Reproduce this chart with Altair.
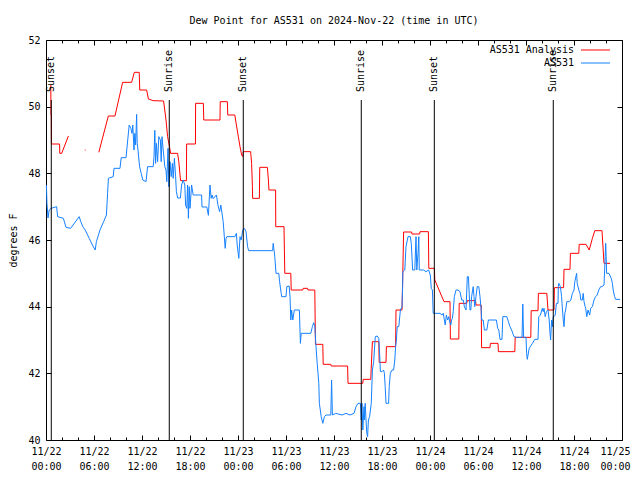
import altair as alt
import pandas as pd

TITLE = "Dew Point for AS531 on 2024-Nov-22 (time in UTC)"
FONT = "DejaVu Sans Mono"

series_names = ["AS531 Analysis", "AS531"]
series_colors = ["#ff0000", "#1581ff"]

# Red (analysis) series: hours since 2024-11-22 00:00 UTC, degrees F, segment id (gaps)
red_hours = [0.6, 0.62, 0.66, 0.68, 1.7, 1.72, 1.96, 2.8,
             4.85, 4.95,
             6.6, 7.79, 8.62, 9.58, 10.7, 11.04, 11.65, 11.72, 12.58, 12.8, 13.4, 14.7, 15.0, 15.2,
             15.4, 15.58, 16.45, 16.6, 16.75, 16.83, 17.55, 17.58, 18.68, 18.7, 19.67, 19.72, 21.75,
             21.78, 22.67, 22.72, 23.6, 23.8, 24.04, 24.25, 24.46, 24.6, 24.66, 25.58, 25.7, 25.8,
             25.83, 26.67, 26.72, 27.67, 27.8, 27.87, 28.7, 28.72, 29.75, 29.8, 29.85, 30.6, 30.65,
             32.1, 32.15, 32.7, 32.75, 33.6, 33.68, 34.6, 34.65, 35.6, 35.65, 37.7, 37.75, 39.6,
             39.65, 40.6, 40.65, 40.8, 41.6, 41.65, 42.5, 42.55, 43.7, 43.75, 44.5, 44.6, 44.7,
             45.7, 45.75, 46.7, 46.75, 47.8, 47.85, 48.55, 48.6, 49.75, 50.5, 50.55, 51.6, 51.65,
             52.6, 52.65, 53.7, 53.75, 54.4, 54.45, 55.5, 55.55, 56.5, 56.55, 58.6, 58.65, 60.6,
             60.65, 61.5, 61.55, 62.6, 62.75, 63.5, 63.55, 64.7, 64.75, 65.5, 65.55, 66.6, 66.65,
             67.5, 67.9, 68.3, 68.6, 69.5, 69.75, 70.5]
red_values = [50.65, 49.75, 49.75, 48.88, 48.88, 48.6, 48.6, 49.12,
              48.7, 48.7,
              48.63, 49.72, 49.72, 50.73, 50.73, 51.03, 51.03, 50.5, 50.5, 50.23, 50.18, 50.17, 49.6, 49.1,
              48.85, 48.6, 48.6, 48.35, 47.95, 47.78, 47.78, 48.88, 48.88, 50.1, 50.1, 49.6, 49.6,
              50.15, 50.15, 49.75, 49.75, 49.45, 49.1, 48.8, 48.55, 48.5, 48.65, 48.65, 48.3, 47.6,
              47.25, 47.25, 48.18, 48.18, 47.8, 47.5, 47.5, 46.4, 46.4, 45.7, 45.0, 45.0, 44.5,
              44.5, 44.55, 44.55, 44.5, 44.5, 42.87, 42.87, 42.27, 42.27, 42.22, 42.22, 41.7, 41.7,
              41.82, 41.82, 42.15, 42.95, 42.95, 42.33, 42.33, 42.8, 42.8, 43.9, 43.9, 45.0, 46.24,
              46.24, 46.18, 46.18, 46.25, 46.25, 45.15, 45.15, 44.8, 44.15, 44.15, 43.03, 43.03, 44.1,
              44.1, 44.18, 44.18, 44.05, 44.05, 42.77, 42.77, 42.9, 42.9, 42.65, 42.65, 43.08, 43.08,
              43.88, 43.88, 44.4, 44.4, 43.9, 43.9, 44.57, 44.57, 45.12, 45.12, 45.6, 45.6, 45.87,
              45.87, 45.7, 46.05, 46.28, 46.28, 45.3, 45.3]
red_segment = [0] * 8 + [1] * 2 + [2] * (len(red_hours) - 10)

# Blue (observed) series
blue_hours = [0.05, 0.12, 0.25, 0.4, 0.63, 1.33, 1.45, 2.17, 2.5, 3.08, 4.15, 4.35, 4.6, 4.9, 5.4, 5.8,
              6.15, 6.3, 6.75, 7.2, 7.55, 7.7, 7.8, 8.4, 8.5, 9.25, 9.4, 10.0, 10.4, 10.6, 10.75, 10.85,
              11.0, 11.1, 11.2, 11.33, 11.4, 11.5, 11.7, 11.9, 12.1, 12.5, 12.7, 13.4, 13.5, 13.6, 13.7,
              13.8, 13.95, 14.1, 14.3, 14.4, 14.5, 14.65, 14.85, 15.0, 15.1, 15.25, 15.35, 15.5, 15.65,
              15.8, 15.9, 16.05, 16.2, 16.3, 16.46, 16.8, 16.95, 17.15, 17.35, 17.45, 17.6, 17.7, 17.8,
              17.9, 18.0, 18.2, 18.4, 19.45, 19.5, 20.1, 20.3, 20.5, 20.65, 20.75, 20.9, 21.3, 21.5,
              21.7, 21.85, 22.15, 22.4, 22.5, 22.6, 23.6, 23.8, 23.9, 24.1, 24.25, 24.4, 24.6, 24.8,
              25.0, 25.2, 25.33, 28.33, 28.4, 28.6, 28.75, 29.1, 29.2, 29.4, 29.46, 30.0, 30.1, 30.4,
              30.5, 30.6, 30.7, 30.85, 31.04, 31.67, 31.8, 31.9, 33.1, 33.3, 33.46, 33.6, 33.75, 33.9,
              34.0, 34.1, 34.17, 34.4, 34.6, 34.8, 35.0, 35.6, 35.7, 35.8, 36.2, 37.0, 37.5, 38.0, 38.5,
              38.75, 39.0, 39.3, 39.4, 39.5, 39.6, 39.75, 39.8, 39.9, 40.0, 40.1, 40.2, 40.3, 40.45,
              40.66, 40.8, 40.96, 41.16, 41.4, 41.6, 41.7, 41.8, 42.0, 42.2, 42.3, 42.4, 42.5, 42.83,
              42.9, 43.04, 43.25, 43.45, 43.6, 43.7, 43.8, 43.9, 44.1, 44.3, 44.5, 44.58, 44.6, 44.85,
              45.0, 45.25, 45.54, 45.66, 45.83, 46.1, 46.25, 46.35, 46.5, 46.6, 46.66, 47.2, 47.5,
              47.83, 48.04, 48.16, 48.3, 48.4, 49.25, 49.5, 49.66, 49.8, 49.9, 50.05, 50.2, 50.35,
              50.45, 50.6, 50.7, 50.8, 50.9, 51.04, 51.25, 51.5, 51.75, 51.96, 52.15, 52.3, 52.5, 52.6,
              52.66, 52.8, 52.9, 53.0, 53.1, 53.2, 53.4, 53.5, 53.6, 53.75, 53.9, 54.1, 54.25, 54.4,
              54.46, 54.65, 54.8, 55.1, 55.3, 56.3, 56.46, 56.6, 56.75, 57.0, 57.1, 57.6, 57.8, 58.0,
              58.2, 58.5, 58.8, 59.5, 59.6, 59.7, 60.0, 60.08, 60.16, 60.4, 60.8, 61.1, 61.5, 61.6,
              61.8, 62.04, 62.15, 62.25, 62.4, 62.55, 62.75, 62.9, 63.0, 63.08, 63.2, 63.3, 63.4, 63.5,
              63.65, 63.8, 64.0, 64.04, 64.1, 64.3, 64.45, 64.5, 64.66, 64.75, 64.85, 64.96, 65.1,
              65.4, 65.6, 65.8, 66.0, 66.1, 66.33, 66.4, 66.6, 66.75, 66.85, 67.04, 67.15, 67.25,
              67.4, 67.46, 67.6, 67.75, 67.96, 68.08, 68.3, 68.5, 68.7, 68.9, 69.1, 69.33, 69.5,
              69.75, 69.9, 69.96, 70.02, 70.08, 70.375, 70.66, 70.8, 70.9, 71.08, 71.2, 71.75]
blue_values = [47.65, 47.1, 46.66, 46.9, 46.95, 47.0, 46.7, 46.65, 46.38, 46.35, 46.7, 46.55, 46.4, 46.3,
               46.05, 45.85, 45.7, 45.95, 46.3, 46.55, 46.75, 47.4, 47.85, 47.9, 48.15, 48.15, 48.47,
               48.47, 49.45, 49.35, 49.2, 49.45, 48.7, 49.2, 48.85, 49.77, 48.9, 48.7, 48.2, 48.0, 47.8,
               47.75, 48.2, 48.2, 48.5, 49.29, 48.3, 48.9, 48.35, 49.1, 49.0, 48.35, 49.1, 48.7, 48.2,
               48.1, 47.75, 48.75, 47.6, 48.35, 47.9, 48.3, 47.85, 48.45, 47.9, 47.45, 47.26, 47.26,
               47.65, 47.8, 47.65, 47.05, 46.95, 47.65, 46.65, 47.6, 46.95, 47.65, 47.35, 47.35, 46.99,
               46.99, 46.74, 47.65, 47.25, 47.35, 47.24, 47.35, 47.04, 46.85, 47.05, 46.55, 45.75,
               46.04, 46.1, 46.1, 46.2, 45.85, 45.45, 46.1, 46.0, 46.3, 46.35, 46.25, 45.8, 45.68,
               45.68, 45.9, 45.5, 45.0, 45.0, 44.75, 44.4, 44.3, 44.3, 44.6, 44.62, 44.3, 43.6, 43.9,
               43.6, 43.9, 43.9, 42.9, 43.2, 43.2, 43.4, 43.52, 43.4, 42.8, 42.3, 42.0, 41.7, 41.1,
               40.7, 40.5, 40.7, 40.75, 40.75, 41.8, 40.75, 40.8, 40.75, 40.8, 40.75, 40.8, 41.0, 41.1,
               41.1, 40.6, 41.1, 40.3, 41.0, 40.6, 41.1, 40.6, 40.2, 40.1, 40.6, 40.7, 41.1, 42.1,
               42.35, 43.1, 43.12, 43.05, 42.6, 42.05, 42.05, 42.1, 42.0, 41.6, 41.1, 41.1, 41.6, 42.0,
               42.1, 42.1, 42.4, 42.8, 43.0, 43.4, 43.4, 43.9, 44.0, 44.6, 45.05, 45.1, 45.8, 46.1,
               46.1, 45.9, 45.1, 45.1, 46.1, 45.1, 45.6, 46.1, 45.1, 45.1, 45.05, 45.1, 44.95, 44.55,
               44.5, 43.8, 43.8, 43.75, 43.8, 43.6, 43.45, 43.75, 43.6, 43.7, 43.55, 43.45, 43.6,
               43.65, 43.85, 44.3, 44.5, 44.5, 44.45, 44.2, 44.2, 44.0, 43.9, 44.5, 44.9, 44.9, 44.4,
               43.9, 43.9, 44.3, 44.6, 44.3, 44.0, 44.3, 44.6, 44.6, 44.3, 43.9, 43.6, 43.6, 43.3,
               43.3, 43.6, 43.6, 43.35, 43.3, 43.02, 43.02, 43.7, 43.7, 43.55, 43.4, 43.3, 43.1, 43.08,
               43.08, 44.08, 43.08, 43.08, 42.6, 42.42, 42.75, 42.9, 43.02, 43.02, 43.7, 43.75, 43.95,
               43.85, 43.95, 43.7, 43.85, 43.9, 43.6, 43.2, 43.0, 43.6, 43.4, 43.7, 43.7, 43.75, 44.1,
               44.1, 44.6, 44.7, 44.6, 44.3, 44.1, 43.6, 43.4, 43.8, 43.9, 44.15, 44.15, 44.2, 44.4,
               44.5, 44.75, 45.0, 44.7, 44.5, 44.4, 44.2, 44.2, 44.4, 44.15, 44.0, 43.95, 43.7, 43.9,
               43.75, 43.95, 44.0, 44.2, 44.3, 44.35, 44.5, 44.6, 44.6, 44.65, 45.5, 45.9, 45.5, 45.0,
               45.0, 44.85, 44.7, 44.5, 44.3, 44.22, 44.22]

sun_hours = [0.66, 15.41, 24.66, 39.41, 48.54, 63.41]
sun_labels = ["Sunset", "Sunrise", "Sunset", "Sunrise", "Sunset", "Sunrise"]

x_label_hours = list(range(0, 73, 6))
x_tick_hours = list(range(0, 73, 2))
y_ticks = [40, 42, 44, 46, 48, 50, 52]
start_month = "11/"
start_day = 22

W, H = 576, 400

rows = []
for i, (h, v, s) in enumerate(zip(red_hours, red_values, red_segment)):
    rows.append({"hour": h, "value": v, "series": series_names[0], "seg": "r%d" % s, "idx": i})
for i, (h, v) in enumerate(zip(blue_hours, blue_values)):
    rows.append({"hour": h, "value": v, "series": series_names[1], "seg": "b0", "idx": i})
lines_df = pd.DataFrame(rows)
sun_df = pd.DataFrame({"hour": sun_hours, "label": sun_labels})
legend_df = pd.DataFrame({"series": series_names})

x_scale = alt.Scale(domain=[0, 72], nice=False, zero=False)
y_scale = alt.Scale(domain=[40, 52], nice=False, zero=False)
color_scale = alt.Scale(domain=series_names, range=series_colors)

label_expr = ("['" + start_month + "' + (" + str(start_day) + " + floor(datum.value / 24)), "
              "(datum.value % 24 < 10 ? '0' : '') + (datum.value % 24) + ':00']")
x_tick_size = {"condition": {"test": "datum.value % 6 === 0", "value": 5}, "value": 3}
last_label_offset = {"condition": {"test": "datum.value === 72", "value": -7}, "value": 0}

# Layer 1: data lines, with labelled axes
lines = alt.Chart(lines_df).mark_line(strokeWidth=1).encode(
    x=alt.X("hour:Q", scale=x_scale,
            axis=alt.Axis(values=x_label_hours, labelExpr=label_expr, ticks=False, domain=False,
                          grid=False, title=None, labelPadding=6, labelLineHeight=15,
                          labelFlush=False, labelOverlap=False, labelOffset=last_label_offset)),
    y=alt.Y("value:Q", scale=y_scale,
            axis=alt.Axis(values=y_ticks, ticks=False, domain=False, grid=False,
                          title="degrees F", titlePadding=9, labelPadding=6)),
    color=alt.Color("series:N", scale=color_scale, legend=None),
    detail="seg:N",
    order="idx:Q",
)

# Layer 2: sunrise / sunset rules, with inward ticks on the bottom edge
rules = alt.Chart(sun_df).mark_rule(color="black", strokeWidth=1).encode(
    x=alt.X("hour:Q", scale=x_scale,
            axis=alt.Axis(orient="top", offset=-H, values=x_tick_hours, labels=False,
                          domain=False, grid=False, title=None, tickSize=x_tick_size)),
    y=alt.value(60),
    y2=alt.value(H),
)

# Layer 3: sunrise / sunset labels, with inward ticks on the top edge
texts = alt.Chart(sun_df).mark_text(angle=270, align="left", baseline="middle",
                                    font=FONT, fontSize=10, color="black").encode(
    x=alt.X("hour:Q", scale=x_scale,
            axis=alt.Axis(orient="bottom", offset=-H, values=x_tick_hours, labels=False,
                          domain=False, grid=False, title=None, tickSize=x_tick_size)),
    y=alt.value(52),
    text="label:N",
)

# Layers 4/5: inward y ticks on both sides
yticks_left = alt.Chart(sun_df).mark_point(opacity=0).encode(
    y=alt.Y("dummy:Q", scale=y_scale,
            axis=alt.Axis(orient="right", offset=-W, values=y_ticks, labels=False,
                          domain=False, grid=False, title=None, tickSize=5)),
).transform_calculate(dummy="40").transform_filter("false")
yticks_right = alt.Chart(sun_df).mark_point(opacity=0).encode(
    y=alt.Y("dummy:Q", scale=y_scale,
            axis=alt.Axis(orient="left", offset=-W, values=y_ticks, labels=False,
                          domain=False, grid=False, title=None, tickSize=5)),
).transform_calculate(dummy="40").transform_filter("false")

legend_layers = []
for i, name in enumerate(series_names):
    base = alt.Chart(legend_df).transform_filter(alt.datum.series == name)
    legend_layers.append(base.mark_text(align="right", baseline="middle", font=FONT,
                                        fontSize=10, color="black").encode(
        x=alt.value(528), y=alt.value(10 + 13 * i), text="series:N"))
    legend_layers.append(base.mark_rule(strokeWidth=1).encode(
        x=alt.value(535), x2=alt.value(564), y=alt.value(10 + 13 * i),
        color=alt.Color("series:N", scale=color_scale, legend=None)))

chart = alt.layer(lines, rules, texts, yticks_left, yticks_right, *legend_layers).resolve_axis(
    x="independent", y="independent"
).properties(
    width=W, height=H,
    autosize=alt.AutoSizeParams(type="none"),
    padding={"left": 38, "top": 32, "right": 10, "bottom": 32},
    title=alt.TitleParams(TITLE, font=FONT, fontSize=10, fontWeight="normal", anchor="middle",
                          frame="group", offset=9, color="black"),
).configure_view(
    stroke="black", strokeWidth=1
).configure_axis(
    labelFont=FONT, labelFontSize=10, labelColor="black",
    titleFont=FONT, titleFontSize=10, titleFontWeight="normal", titleColor="black",
    tickColor="black", tickWidth=1,
)

chart.save("out.html", embed_options={"renderer": "svg", "actions": False})
